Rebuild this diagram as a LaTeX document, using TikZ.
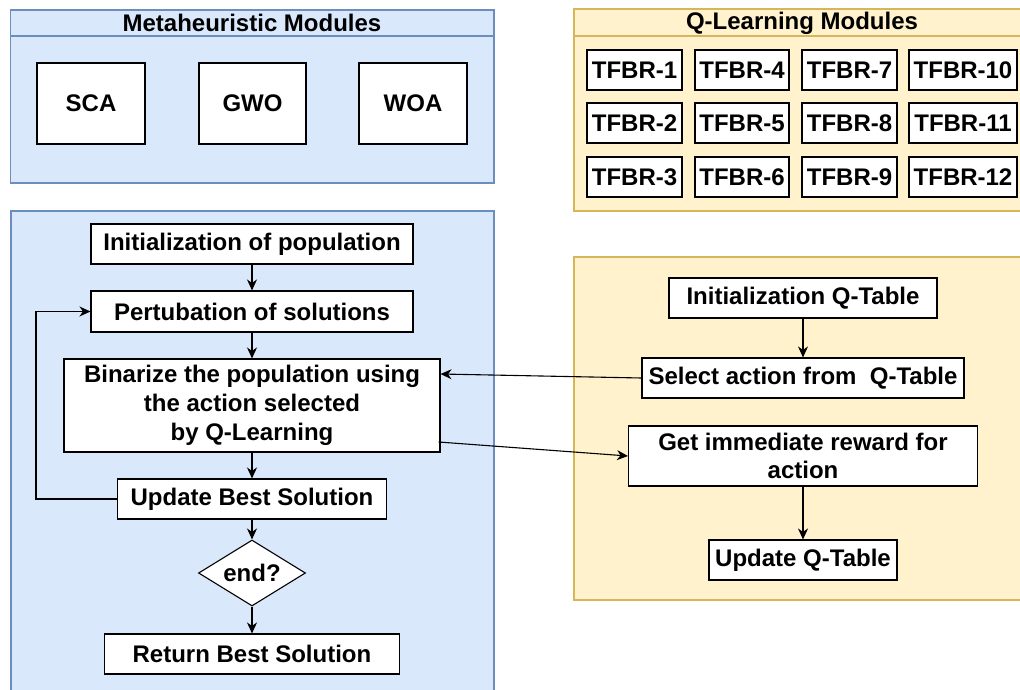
\documentclass[tikz,border=0pt]{standalone}
\usepackage{fontspec}
\setmainfont{Liberation Sans}
\usetikzlibrary{arrows.meta,shapes.geometric}
\definecolor{bluefill}{HTML}{DAE8FC}
\definecolor{blueline}{HTML}{6C8EBF}
\definecolor{yelfill}{HTML}{FFF2CC}
\definecolor{yelline}{HTML}{D6B656}
\tikzset{
  bluepanel/.style={fill=bluefill,draw=blueline,line width=1.2pt},
  yelpanel/.style={fill=yelfill,draw=yelline,line width=1.2pt},
  box/.style={draw=black,fill=white,line width=1.1pt,inner sep=0pt,align=center,
    font=\fontsize{24}{28.8}\selectfont\bfseries},
  dia/.style={draw=black,fill=white,line width=1.1pt,diamond,aspect=1.6,inner sep=0pt,
    font=\fontsize{24}{28.8}\selectfont\bfseries},
  title/.style={font=\fontsize{24}{28.8}\selectfont\bfseries,inner sep=0pt},
  arr/.style={-{Stealth[length=11pt,width=10pt,inset=3.5pt]},line width=1.1pt},
}
\begin{document}
\begin{tikzpicture}[x=1pt,y=-1pt]
\useasboundingbox (0,0) rectangle (1020,690);
% panels
\draw[bluepanel] (10.5,10) rectangle (494,183);
\draw[blueline,line width=1.2pt] (10.5,36) -- (494,36);
\node[title] (mtitle) at (252,23) {Metaheuristic Modules};
\draw[yelpanel] (574,9) rectangle (1030,211);
\draw[yelline,line width=1.2pt] (574,36) -- (1030,36);
\node[title] (qtitle) at (802,23) {Q-Learning Modules};
\draw[bluepanel] (11,211) rectangle (494,700);
\draw[yelpanel] (574,257) rectangle (1030,600);
% metaheuristic modules
\node[box,minimum width=108,minimum height=81] (sca) at (91,103.5) {SCA};
\node[box,minimum width=107,minimum height=81] (gwo) at (252.5,103.5) {GWO};
\node[box,minimum width=108,minimum height=81] (woa) at (413,103.5) {WOA};
% Q-learning modules
\foreach \c/\x/\w [count=\i from 0] in {1/634.5/95,2/742/94,3/849.5/95,4/963/108}{
  \foreach \r/\y [count=\j from 1] in {1/70,2/123,3/177}{
    \pgfmathtruncatemacro{\n}{3*\i+\j}
    \node[box,minimum width=\w,minimum height=40] (t\n) at (\x,\y) {TFBR-\n};
  }
}
% left flow
\node[box,minimum width=322,minimum height=40] (init) at (252,244) {Initialization of population};
\node[box,minimum width=322,minimum height=41] (pert) at (252,311.5) {Pertubation of solutions};
\node[box,minimum width=376,minimum height=93] (bin) at (252,405.5) {Binarize the population using\\the action selected\\by Q-Learning};
\node[box,minimum width=269,minimum height=40] (upd) at (252,499) {Update Best Solution};
\node[dia,minimum width=107,minimum height=66] (end) at (252,573) {end?};
\node[box,minimum width=295,minimum height=40] (ret) at (252,654) {Return Best Solution};
% right flow
\node[box,minimum width=268,minimum height=40] (initq) at (803,298) {Initialization Q-Table};
\node[box,minimum width=322,minimum height=40] (sel) at (803,378) {Select action from\ \ Q-Table};
\node[box,minimum width=349,minimum height=60] (rew) at (803,456) {Get immediate reward for\\action};
\node[box,minimum width=188,minimum height=40] (updq) at (803,560) {Update Q-Table};
% connectors
\draw[arr] (init.south) -- (pert.north);
\draw[arr] (pert.south) -- (bin.north);
\draw[arr] (bin.south) -- (upd.north);
\draw[arr] (upd.south) -- (end.north);
\draw[arr] (end.south) -- (ret.north);
\draw[arr] (upd.west) -- ++(-81,0) |- (pert.west);
\draw[arr] (initq.south) -- (sel.north);
\draw[arr] (rew.south) -- (updq.north);
\draw[arr] (sel.west) -- ([yshift=31.5pt]bin.east);
\draw[arr] ([xshift=-2pt,yshift=-36.5pt]bin.east) -- (rew.west);
\end{tikzpicture}
\end{document}
